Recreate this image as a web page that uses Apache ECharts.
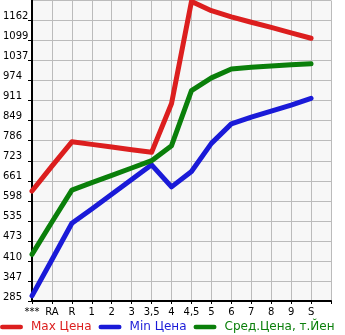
<!DOCTYPE html>
<html>
<head>
<meta charset="utf-8">
<script src="https://cdn.jsdelivr.net/npm/echarts@6/dist/echarts.min.js"></script>
<style>
html,body{margin:0;padding:0;background:#fff;}
#chart{width:345px;height:335px;}
</style>
</head>
<body>
<div id="chart"></div>
<script>
const categories = ['***','RA','R','1','2','3','3,5','4','4,5','5','6','7','8','9','S',''];
const maxPrice = [629, 707, 783, 775, 767, 758, 750, 903, 1222, 1193, 1174, 1157, 1141, 1124, 1107, null];
const minPrice = [301, 414, 528, 573, 619, 665, 711, 642, 690, 778, 839, 860, 879, 898, 919, null];
const avgPrice = [431, 532, 632, 655, 678, 701, 724, 771, 943, 983, 1011, 1016, 1020, 1024, 1027, null];
const seriesNames = ['Max Цена', 'Min Цена', 'Сред.Цена, т.Йен'];
const yMin = 285, yMax = 1225;

const colors = ['#dc1e1e', '#1a1ad8', '#0a7f0a'];
const capsule = 'path://M2.5,0 L22.5,0 A2.5,2.5 0 0 1 22.5,5 L2.5,5 A2.5,2.5 0 0 1 2.5,0 Z';
const font = 'DejaVu Sans';

const chart = echarts.init(document.getElementById('chart'), null, {renderer: 'canvas'});
function mk(name, data, color) {
  return {
    name: name, type: 'line', data: data, symbol: 'none',
    lineStyle: {color: color, width: 5, cap: 'round', join: 'round'},
    itemStyle: {color: color}
  };
}
chart.setOption({
  animation: false,
  backgroundColor: '#ffffff',
  grid: {left: 30, right: 14, top: 0.5, bottom: 34, show: true, backgroundColor: '#f7f7f7', borderWidth: 0, containLabel: false},
  legend: {
    left: 0, top: 321, padding: 0, itemGap: 7, itemWidth: 23, itemHeight: 5,
    data: seriesNames.map((n, i) => ({name: n, icon: capsule, textStyle: {color: colors[i]}})),
    textStyle: {fontFamily: font, fontSize: 12, padding: [0, 0, 0, 3]}
  },
  xAxis: {
    type: 'category', data: categories, boundaryGap: false,
    axisLine: {show: true, lineStyle: {color: '#000', width: 2}},
    axisTick: {show: true, interval: 0, length: 3, lineStyle: {color: '#000'}},
    axisLabel: {interval: 0, fontFamily: font, fontSize: 10, color: '#000', margin: 6},
    splitLine: {show: true, interval: 0, lineStyle: {color: '#bbbbbb', width: 1}}
  },
  yAxis: {
    type: 'value', min: yMin, max: yMax, interval: (yMax - yMin) / 15,
    axisLine: {show: true, lineStyle: {color: '#000', width: 2}},
    axisTick: {show: true, length: 4, lineStyle: {color: '#000'}},
    axisLabel: {
      fontFamily: font, fontSize: 10, color: '#000', align: 'left', margin: 29,
      verticalAlign: 'bottom', lineHeight: 8, showMaxLabel: false,
      formatter: v => String(Math.floor(v + 1e-6))
    },
    splitLine: {show: true, lineStyle: {color: '#bbbbbb', width: 1}}
  },
  series: [
    mk(seriesNames[0], maxPrice, colors[0]),
    mk(seriesNames[1], minPrice, colors[1]),
    mk(seriesNames[2], avgPrice, colors[2])
  ]
});
</script>
</body>
</html>
